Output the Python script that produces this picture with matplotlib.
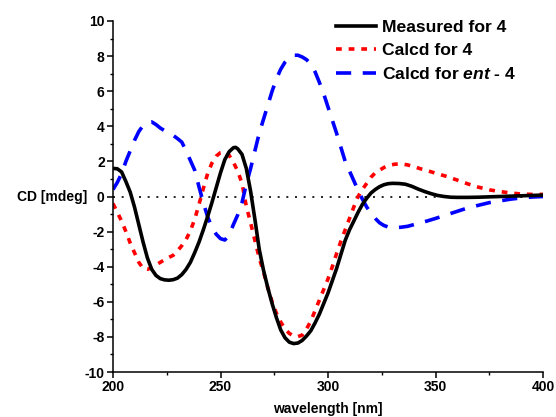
"""
CD spectra of compound 4: measured vs. calculated (4 and ent-4).
"""

import matplotlib
matplotlib.use("Agg")
import matplotlib.pyplot as plt
from matplotlib.ticker import MultipleLocator

plt.rcParams["font.family"] = ["Liberation Sans", "DejaVu Sans"]
plt.rcParams["font.weight"] = "bold"
plt.rcParams["axes.unicode_minus"] = False
plt.rcParams["mathtext.fontset"] = "custom"
plt.rcParams["mathtext.it"] = "Liberation Sans:italic"

# measured spectrum
measured_nm = [200, 202, 204, 206, 208, 210, 212, 214, 216, 218, 220, 222, 224, 226, 228, 230,
               232, 234, 236, 238, 240, 242, 244, 246, 248, 250, 252, 254, 256, 257, 258, 260,
               262, 264, 266, 268, 270, 272, 274, 276, 278, 280, 282, 284, 286, 288, 290, 292,
               294, 296, 298, 300, 302, 304, 306, 308, 310, 312, 314, 316, 318, 320, 322, 324,
               326, 328, 330, 333, 336, 339, 342, 345, 348, 351, 354, 357, 360, 365, 370, 375,
               380, 385, 390, 395, 400]
measured_cd = [1.6, 1.58, 1.4, 0.85, 0.25, -0.6, -1.6, -2.6, -3.5, -4.15, -4.5, -4.68, -4.75, -4.77,
               -4.74, -4.65, -4.45, -4.15, -3.75, -3.2, -2.6, -1.9, -1.15, -0.35, 0.5, 1.35, 2.1,
               2.55, 2.78, 2.8, 2.72, 2.4, 1.6, 0.3, -1.3, -3.0, -4.2, -5.2, -6.1, -6.9, -7.6,
               -8.05, -8.3, -8.38, -8.35, -8.2, -7.95, -7.65, -7.2, -6.7, -6.1, -5.5, -4.8, -4.1,
               -3.3, -2.5, -1.9, -1.4, -0.9, -0.45, -0.1, 0.2, 0.4, 0.56, 0.67, 0.73, 0.75, 0.74,
               0.7, 0.58, 0.42, 0.28, 0.16, 0.06, 0.0, -0.04, -0.05, -0.05, -0.04, -0.02, 0.0,
               0.02, 0.04, 0.06, 0.08]

# calculated for 4
calc_nm = [200, 202, 204, 206, 208, 210, 212, 214, 216, 218, 220, 222, 224, 226, 228, 230, 232,
           234, 236, 238, 240, 242, 244, 246, 248, 250, 252, 254, 256, 258, 260, 262, 264, 266,
           268, 270, 272, 274, 276, 278, 280, 282, 284, 286, 288, 290, 292, 294, 296, 298, 300,
           302, 304, 306, 308, 310, 312, 314, 316, 318, 320, 322, 324, 326, 328, 331, 334, 337,
           340, 343, 346, 350, 355, 360, 365, 370, 375, 380, 385, 390, 395, 400]
calc_cd = [-0.4, -0.9, -1.4, -2.0, -2.65, -3.2, -3.75, -4.1, -4.15, -4.05, -3.9, -3.75, -3.6,
           -3.47, -3.35, -3.1, -2.8, -2.45, -1.95, -1.3, -0.45, 0.45, 1.3, 1.9, 2.3, 2.5, 2.55,
           2.35, 1.95, 1.45, 0.75, -0.55, -1.5, -2.5, -3.5, -4.3, -5.2, -6.0, -6.65, -7.15,
           -7.55, -7.8, -7.95, -7.98, -7.9, -7.55, -7.1, -6.5, -5.9, -5.3, -4.7, -4.0, -3.25,
           -2.55, -1.9, -1.25, -0.6, 0.0, 0.4, 0.75, 1.1, 1.35, 1.5, 1.65, 1.76, 1.84, 1.86,
           1.8, 1.7, 1.58, 1.48, 1.33, 1.15, 0.94, 0.72, 0.53, 0.38, 0.28, 0.2, 0.14, 0.12, 0.12]

# calculated for ent-4
ent_nm = [200, 202, 204, 206, 208, 210, 212, 214, 216, 218, 220, 222, 224, 226, 228, 230, 232,
          234, 236, 238, 240, 242, 244, 246, 248, 250, 252, 254, 256, 258, 260, 262, 264, 266,
          268, 270, 272, 274, 276, 278, 280, 282, 284, 286, 288, 290, 292, 294, 296, 298, 300,
          302, 304, 306, 308, 310, 312, 314, 316, 318, 320, 322, 324, 326, 328, 331, 334, 337,
          340, 343, 346, 350, 355, 360, 365, 370, 375, 380, 385, 390, 395, 400]
ent_cd = [0.4, 0.8, 1.3, 2.0, 2.6, 3.2, 3.7, 4.05, 4.22, 4.25, 4.1, 3.9, 3.75, 3.6, 3.48, 3.3,
          3.1, 2.6, 2.05, 1.5, 0.55, -0.35, -1.15, -1.75, -2.15, -2.4, -2.48, -2.2, -1.6, -1.05,
          -0.35, 0.7, 1.6, 2.6, 3.6, 4.4, 5.2, 6.0, 6.7, 7.25, 7.65, 7.9, 8.05, 8.05, 7.95, 7.8,
          7.55, 7.1, 6.5, 5.85, 5.1, 4.35, 3.6, 2.8, 2.0, 1.45, 0.9, 0.35, -0.15, -0.6, -0.95,
          -1.25, -1.5, -1.65, -1.74, -1.78, -1.75, -1.7, -1.6, -1.5, -1.4, -1.25, -1.05, -0.85,
          -0.65, -0.5, -0.35, -0.25, -0.15, -0.08, -0.03, 0.0]

labels = ["Measured for 4", "Calcd for 4", r"Calcd for $\mathit{ent}$ - 4"]


def make_plot():
    fig = plt.figure(figsize=(5.56, 4.17), dpi=100)
    ax = fig.add_axes([113 / 556, 1 - 372 / 417, 430 / 556, 351 / 417])

    # zero line
    ax.axhline(0, color="black", lw=1.2, ls=(0, (1.2, 4)), zorder=1)

    ax.plot(measured_nm, measured_cd, color="black", lw=2.6, label=labels[0], zorder=3)
    ax.plot(calc_nm, calc_cd, color="#ff0000", lw=2.6, ls=(0, (1.6, 1.9)), label=labels[1], zorder=2)
    ax.plot(ent_nm, ent_cd, color="#0000ff", lw=2.6, ls=(0, (4.2, 3.2)), label=labels[2], zorder=2)

    ax.set_xlim(200, 400)
    ax.set_ylim(-10, 10)
    ax.xaxis.set_major_locator(MultipleLocator(50))
    ax.xaxis.set_minor_locator(MultipleLocator(25))
    ax.yaxis.set_major_locator(MultipleLocator(2))
    ax.yaxis.set_minor_locator(MultipleLocator(1))

    for side in ["top", "right"]:
        ax.spines[side].set_visible(False)
    for side in ["left", "bottom"]:
        ax.spines[side].set_linewidth(1.1)

    ax.tick_params(which="major", direction="out", length=4, width=1.1, labelsize=10, pad=2)
    ax.tick_params(which="minor", direction="out", length=2.5, width=1.0)

    ax.set_xlabel("wavelength [nm]", fontsize=10, fontweight="bold")
    ax.xaxis.set_label_coords(0.5, -0.085)
    ax.set_ylabel("CD [mdeg]", fontsize=10, fontweight="bold", rotation=0, ha="right", va="center")
    ax.yaxis.set_label_coords(-0.06, 0.5)

    ax.legend(loc="upper left", bbox_to_anchor=(336 / 556, 1 - 20 / 417),
              bbox_transform=fig.transFigure, frameon=False, fontsize=12.6,
              handlelength=2.3, handletextpad=0.34, labelspacing=0.45, borderpad=0,
              borderaxespad=0)

    fig.savefig("out.png", dpi=100)


if __name__ == "__main__":
    make_plot()
